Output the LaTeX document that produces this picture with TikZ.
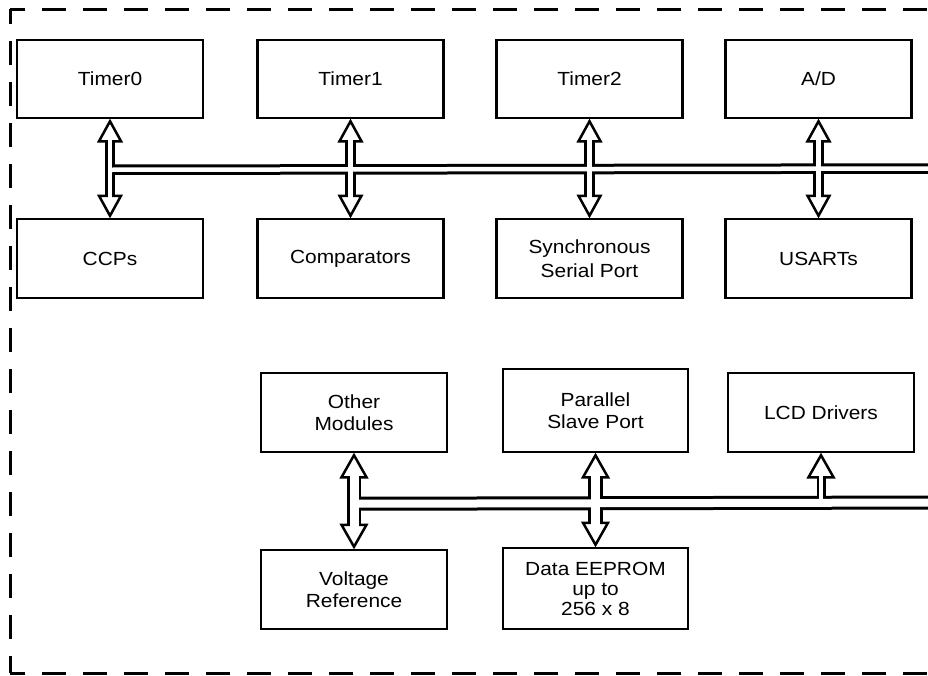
\documentclass[tikz,border=0pt]{standalone}
\usepackage{fontspec}
\setmainfont{Liberation Sans}[FakeStretch=1.1]
\usetikzlibrary{calc}
\newcommand\dblarr[6]{%
  \coordinate (ta) at ($(#1)+(0,2)$);
  \coordinate (tb) at ($(#2)+(0,-2)$);
  \draw[line width=#5pt] ($(ta)+(0,#3)$) -- ($(tb)+(0,-#3)$);
  \draw[headline] (ta) -- ++(-#4/2,#3) -- ++(#4,0) -- cycle;
  \draw[headline] (tb) -- ++(-#4/2,-#3) -- ++(#4,0) -- cycle;
  \draw[white,line width=#6pt] ($(ta)+(0,#3-3)$) -- ($(tb)+(0,-#3+3)$);
}
\begin{document}
\begin{tikzpicture}[x=1pt,y=-1pt,
  box/.style={draw=black, line width=2.5pt, fill=white, minimum width=186pt,
    minimum height=79pt, inner sep=0pt, align=center,
    font=\fontsize{19}{21.5}\selectfont},
  headline/.style={draw=black, fill=white, line width=2.5pt, line join=miter},
  border/.style={draw=black, line width=3pt, dash pattern=on 24pt off 17pt, dash phase=9pt}]
\useasboundingbox (0,0) rectangle (928,675);
\clip (0,0) rectangle (928,675);
% dashed frame
\draw[border] (10,9) -- (945,9);
\draw[border] (10,9) -- (10,673);
\draw[border] (10,673) -- (945,673);
% boxes
\node[box, minimum height=78pt] (t0) at (110,79) {Timer0};
\node[box, minimum height=78pt] (t1) at (350.5,79) {Timer1};
\node[box, minimum height=78pt] (t2) at (589.5,79) {Timer2};
\node[box, minimum height=78pt] (ad) at (818.5,79) {A/D};
\node[box] (ccp) at (110,258.5) {CCPs};
\node[box] (cmp) at (350.5,258.5) {Comparators};
\node[box] (ssp) at (589.5,258.5) {Synchronous\\[2pt]Serial Port};
\node[box] (usa) at (818.5,258.5) {USARTs};
\node[box] (om) at (354,412.5) {Other\\Modules};
\node[box, minimum width=185pt, minimum height=83pt] (psp) at (595.5,410.5) {Parallel\\Slave Port};
\node[box] (lcd) at (821,412.5) {LCD Drivers};
\node[box] (vr) at (354,589.5) {Voltage\\Reference};
\node[box, minimum width=185pt, minimum height=81pt] (ee) at (595.5,588.5) {Data EEPROM\\[-1.5pt]up to\\[-1.5pt]256 x 8};
% bus end points
\coordinate (tbL) at ($(t0.south)+(0,50.5)$);
\coordinate (tbR) at (945,168.5);
\coordinate (bbL) at ($(om.south)+(0,50.5)$);
\coordinate (bbR) at (945,502.5);
\coordinate (lcdB) at ($(lcd.south)+(0,50)$);
% black bus bodies
\draw[line width=10.5pt] (tbL) -- (tbR);
\draw[line width=14pt] (bbL) -- (bbR);
% arrows
\dblarr{t0.south}{ccp.north}{20}{22}{10.5}{4.5}
\dblarr{t1.south}{cmp.north}{20}{22}{10.5}{4.5}
\dblarr{t2.south}{ssp.north}{20}{22}{10.5}{4.5}
\dblarr{ad.south}{usa.north}{20}{22}{10.5}{4.5}
\dblarr{om.south}{vr.north}{22}{25}{14.5}{9}
\dblarr{psp.south}{ee.north}{22}{25}{14.5}{9}
% single arrow to LCD drivers
\coordinate (la) at ($(lcd.south)+(0,2)$);
\draw[line width=9pt] (lcdB) -- ($(la)+(0,22)$);
\draw[headline] (la) -- ++(-12.5,22) -- ++(25,0) -- cycle;
\draw[white, line width=3.5pt] (lcdB) -- ($(la)+(0,19)$);
% white bus interiors
\draw[white, line width=4.5pt] (tbL) -- (tbR);
\draw[white, line width=8pt] (bbL) -- (bbR);
\end{tikzpicture}
\end{document}
